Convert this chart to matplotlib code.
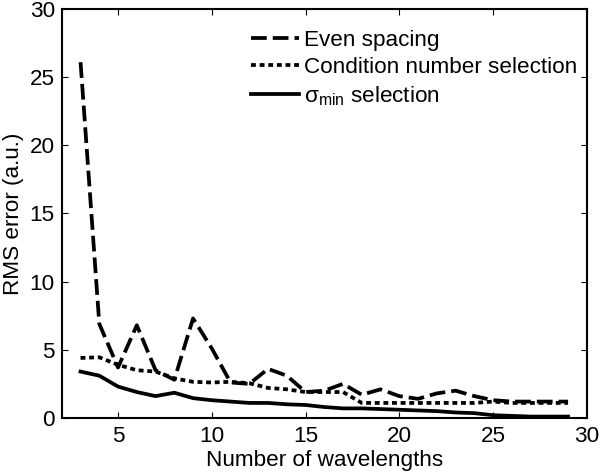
import numpy as np
import matplotlib.pyplot as plt

plt.rcParams['font.family'] = ['Liberation Sans', 'DejaVu Sans']
plt.rcParams['mathtext.fontset'] = 'custom'
plt.rcParams['mathtext.rm'] = 'Liberation Sans'

# wavelengths count
n_wl = list(range(3, 30))

even = [26.1, 6.9, 3.7, 6.8, 3.5, 2.8, 7.3, 5.1, 2.6, 2.5, 3.6, 3.1, 1.9,
        2.0, 2.5, 1.7, 2.1, 1.6, 1.4, 1.8, 2.0, 1.6, 1.3, 1.2, 1.2, 1.2, 1.2]
cond = [4.4, 4.45, 3.9, 3.5, 3.4, 2.9, 2.65, 2.6, 2.65, 2.55, 2.2, 2.1, 1.9,
        1.9, 1.9, 1.1, 1.1, 1.1, 1.1, 1.1, 1.1, 1.1, 1.2, 1.1, 1.1, 1.1, 1.1]
smin = [3.4, 3.1, 2.3, 1.9, 1.6, 1.85, 1.45, 1.3, 1.2, 1.1, 1.1, 1.0, 0.95,
        0.8, 0.7, 0.7, 0.65, 0.6, 0.55, 0.5, 0.4, 0.35, 0.2, 0.15, 0.1, 0.1, 0.1]

fs = 16.2
fig = plt.figure(figsize=(6, 4.76), dpi=100)
ax = fig.add_axes([0.103, 0.122, 0.875, 0.859])

ax.plot(n_wl, even, 'k', lw=2.7, dashes=(4.2, 1.6), label='Even spacing')
ax.plot(n_wl, cond, 'k', lw=2.7, dashes=(1.3, 1.0), label='Condition number selection')
ax.plot(n_wl, smin, 'k', lw=2.7, label='σ$_\\mathregular{min}$ selection')

ax.set_xlim(2, 30)
ax.set_ylim(0, 30)
ax.set_xticks([5, 10, 15, 20, 25, 30])
ax.set_yticks([0, 5, 10, 15, 20, 25, 30])
ax.tick_params(direction='in', top=True, right=True, labelsize=fs, length=4)
ax.tick_params(axis='x', pad=6)
ax.tick_params(axis='y', pad=5)
for s in ax.spines.values():
    s.set_linewidth(1.5)

ax.set_xlabel('Number of wavelengths', fontsize=fs, labelpad=2)
ax.set_ylabel('RMS error (a.u.)', fontsize=fs, labelpad=4)

ax.legend(loc='upper right', bbox_to_anchor=(0.99, 0.96), frameon=False,
          fontsize=fs, handlelength=2.15, handletextpad=0.2, labelspacing=0.27,
          borderaxespad=0.0, borderpad=0.2)

fig.savefig('out.png')
